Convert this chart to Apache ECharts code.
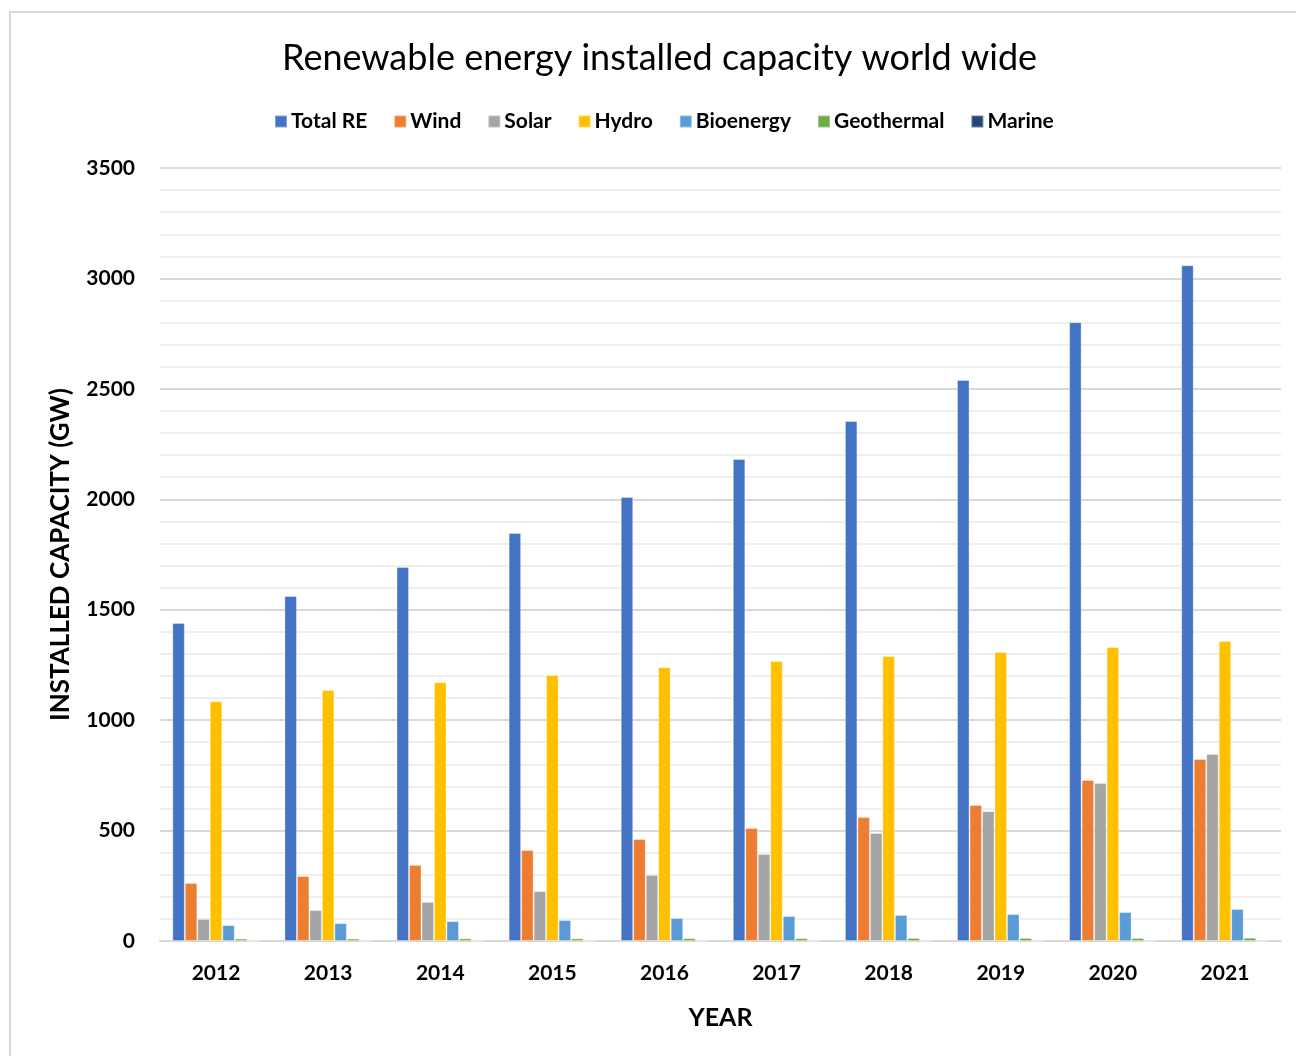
<!DOCTYPE html>
<html>
<head>
<meta charset="utf-8">
<title>Renewable energy installed capacity world wide</title>
<script src="https://cdn.jsdelivr.net/npm/echarts@6/dist/echarts.min.js"></script>
<style>
  html, body { margin: 0; padding: 0; background: #ffffff; }
  #chart { width: 1296px; height: 1056px; }
</style>
</head>
<body>
<div id="chart"></div>
<script>
// Installed capacity in GW, by year
const years = ['2012', '2013', '2014', '2015', '2016', '2017', '2018', '2019', '2020', '2021'];
const totalRE    = [1440, 1562, 1693, 1847, 2010, 2182, 2354, 2540, 2802, 3060];
const wind       = [263, 294, 344, 412, 462, 512, 561, 616, 729, 824];
const solar      = [100, 140, 177, 226, 299, 394, 489, 588, 715, 847];
const hydro      = [1086, 1136, 1172, 1204, 1240, 1268, 1290, 1308, 1331, 1358];
const bioenergy  = [72, 81, 90, 95, 104, 113, 118, 122, 131, 145];
const geothermal = [11, 11, 12, 12, 13, 13, 14, 14, 14, 15];
const marine     = [0.5, 0.5, 0.5, 0.5, 0.5, 0.5, 0.5, 0.5, 0.5, 0.5];
const yTicks = [0, 500, 1000, 1500, 2000, 2500, 3000, 3500];

const seriesDefs = [
  { name: 'Total RE',   data: totalRE,    color: '#4472C4' },
  { name: 'Wind',       data: wind,       color: '#ED7D31' },
  { name: 'Solar',      data: solar,      color: '#A5A5A5' },
  { name: 'Hydro',      data: hydro,      color: '#FFC000' },
  { name: 'Bioenergy',  data: bioenergy,  color: '#5B9BD5' },
  { name: 'Geothermal', data: geothermal, color: '#70AD47' },
  { name: 'Marine',     data: marine,     color: '#264478' }
];

const font = 'Lato, "Open Sans", sans-serif';
const chart = echarts.init(document.getElementById('chart'), null, { renderer: 'canvas' });

chart.setOption({
  backgroundColor: '#ffffff',
  animation: false,
  textStyle: { fontFamily: font },
  graphic: [{
    type: 'rect',
    shape: { x: 10, y: 12, width: 1320, height: 1100 },
    style: { fill: 'none', stroke: '#d9d9d9', lineWidth: 2 },
    silent: true
  }],
  title: {
    text: 'Renewable energy installed capacity world wide',
    left: 277,
    top: 35,
    textStyle: { fontFamily: font, fontSize: 36, fontWeight: 'normal', color: '#000000' }
  },
  legend: {
    top: 106,
    left: 269,
    itemWidth: 12,
    itemHeight: 12,
    itemGap: 26,
    icon: 'rect',
    textStyle: { fontFamily: font, fontSize: 21, fontWeight: 'bold', color: '#000000', padding: [0, 0, 0, -1] },
    data: seriesDefs.map(s => s.name)
  },
  grid: { left: 160, right: 15, top: 168, bottom: 115, containLabel: false },
  xAxis: {
    type: 'category',
    data: years,
    name: 'YEAR',
    nameLocation: 'middle',
    nameGap: 64,
    nameTextStyle: { fontFamily: font, fontSize: 25, fontWeight: 'bold', color: '#000000' },
    axisLine: { show: true, lineStyle: { color: '#d9d9d9', width: 2 } },
    axisTick: { show: false },
    axisLabel: { fontFamily: font, fontSize: 21, fontWeight: 'bold', color: '#000000', margin: 22 }
  },
  yAxis: {
    type: 'value',
    min: yTicks[0],
    max: yTicks[yTicks.length - 1],
    interval: 500,
    name: 'INSTALLED CAPACITY (GW)',
    nameLocation: 'middle',
    nameGap: 86,
    nameTextStyle: { fontFamily: font, fontSize: 26, fontWeight: 'bold', color: '#000000' },
    axisLine: { show: false },
    axisTick: { show: false },
    axisLabel: { fontFamily: font, fontSize: 21, fontWeight: 'bold', color: '#000000', margin: 25, formatter: v => String(v) },
    splitLine: { show: true, lineStyle: { color: '#d9d9d9', width: 2 } },
    minorTick: { show: false, splitNumber: 5 },
    minorSplitLine: { show: true, lineStyle: { color: '#efefef', width: 2 } }
  },
  series: seriesDefs.map(s => ({
    name: s.name,
    type: 'bar',
    data: s.data,
    barGap: '0%',
    barCategoryGap: '22%',
    itemStyle: { color: s.color, borderColor: 'rgba(255,255,255,0.35)', borderWidth: 1 }
  }))
});
</script>
</body>
</html>
